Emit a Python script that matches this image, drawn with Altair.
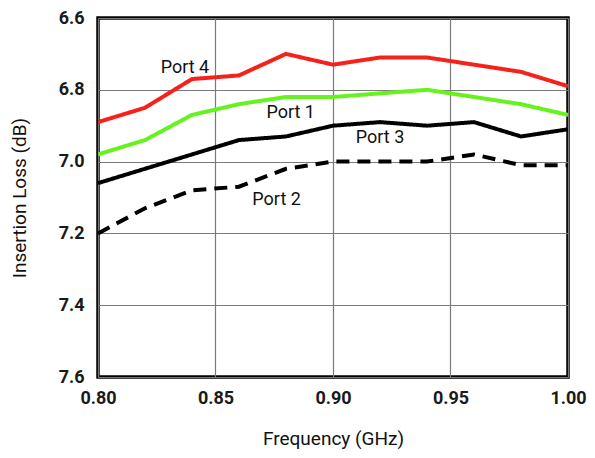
import altair as alt
import pandas as pd

freq = [0.80, 0.82, 0.84, 0.86, 0.88, 0.90, 0.92, 0.94, 0.96, 0.98, 1.00]
port4 = [6.89, 6.85, 6.77, 6.76, 6.70, 6.73, 6.71, 6.71, 6.73, 6.75, 6.79]
port1 = [6.98, 6.94, 6.87, 6.84, 6.82, 6.82, 6.81, 6.80, 6.82, 6.84, 6.87]
port3 = [7.06, 7.02, 6.98, 6.94, 6.93, 6.90, 6.89, 6.90, 6.89, 6.93, 6.91]
port2 = [7.20, 7.13, 7.08, 7.07, 7.02, 7.00, 7.00, 7.00, 6.98, 7.01, 7.01]

ports = ["Port 4", "Port 1", "Port 3", "Port 2"]
series = [port4, port1, port3, port2]
colors = ["#f5221b", "#66f21e", "#000000", "#000000"]

label_names = ["Port 4", "Port 1", "Port 3", "Port 2"]
label_x = [0.837, 0.882, 0.920, 0.876]
label_y = [6.739, 6.865, 6.934, 7.107]

rows = []
for p, s in zip(ports, series):
    for f, v in zip(freq, s):
        rows.append({"port": p, "freq": f, "loss": v, "dashed": "yes" if p == "Port 2" else "no"})
df = pd.DataFrame(rows)
lab = pd.DataFrame({"name": label_names, "x": label_x, "y": label_y})

FONT = "Roboto, Liberation Sans, sans-serif"

xs = alt.Scale(domain=[0.80, 1.00], nice=False, zero=False)
ys = alt.Scale(domain=[6.6, 7.6], reverse=True, nice=False, zero=False)

lines = alt.Chart(df).mark_line(strokeWidth=4, clip=True).encode(
    x=alt.X("freq:Q", scale=xs,
            axis=alt.Axis(values=[0.80, 0.85, 0.90, 0.95, 1.00], format=".2f",
                          title="Frequency (GHz)")),
    y=alt.Y("loss:Q", scale=ys,
            axis=alt.Axis(values=[6.6, 6.8, 7.0, 7.2, 7.4, 7.6], format=".1f",
                          title="Insertion Loss (dB)")),
    color=alt.Color("port:N", scale=alt.Scale(domain=ports, range=colors), legend=None),
    strokeDash=alt.StrokeDash("dashed:N", scale=alt.Scale(domain=["no", "yes"], range=[[1, 0], [13, 8]]), legend=None),
    detail="port:N",
)

texts = alt.Chart(lab).mark_text(font=FONT, fontSize=18, color="#111111").encode(
    x=alt.X("x:Q", scale=xs),
    y=alt.Y("y:Q", scale=ys),
    text="name:N",
)

chart = (lines + texts).properties(
    width=470, height=359,
    autosize=alt.AutoSizeParams(type="none"),
    padding={"left": 90, "top": 10, "right": 19, "bottom": 72},
).configure_view(
    stroke="#000000", strokeWidth=3.5
).configure_axis(
    grid=True, gridColor="#7a7a7a", gridWidth=1.2, ticks=False, domain=False,
    labelFlush=False, labelOverlap=False,
    labelFont=FONT, labelFontSize=18, labelColor="#1a1a1a", labelFontWeight="bold",
    titleFont=FONT, titleFontSize=19, titleColor="#111111", titleFontWeight="normal",
).configure_axisX(
    labelPadding=12, titlePadding=22,
).configure_axisY(
    labelPadding=14, titlePadding=29,
)

chart.save("out.html", embed_options={"renderer": "svg", "actions": False})
